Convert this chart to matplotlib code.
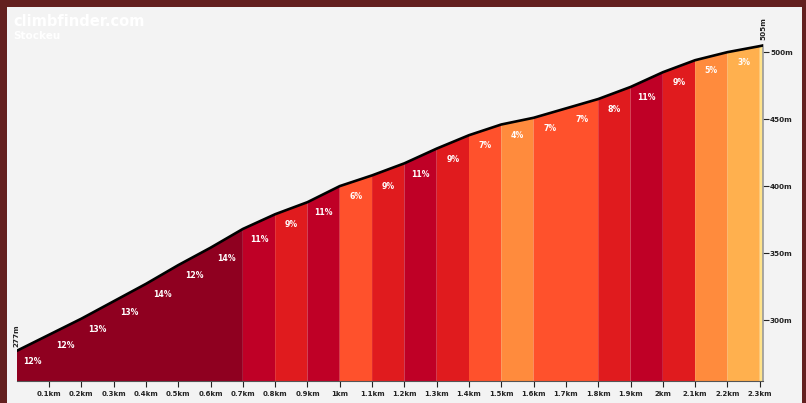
import numpy as np
import matplotlib
matplotlib.use("Agg")
from matplotlib import pyplot as plt
from matplotlib.patches import Rectangle

# profile
dist_km = [0.0, 0.1, 0.2, 0.3, 0.4, 0.5, 0.6, 0.7, 0.8, 0.9, 1.0, 1.1,
           1.2, 1.3, 1.4, 1.5, 1.6, 1.7, 1.8, 1.9, 2.0, 2.1, 2.2, 2.3, 2.31]
elev_m = [277, 289, 301, 314, 327, 341, 354, 368, 379, 388, 400, 408,
          417, 428, 438, 446, 451, 458, 465, 474, 485, 494, 500, 504.5, 505]
grades = [12, 12, 13, 13, 14, 12, 14, 11, 9, 11, 6, 9, 11, 9, 7, 4, 7, 7,
          8, 11, 9, 5, 3, 1]
ytick_vals = [300, 350, 400, 450, 500]
xtick_vals = [round(0.1 * i, 1) for i in range(1, 24)]


def grade_color(g):
    if g >= 12:
        return "#8f0020"
    if g >= 10:
        return "#bf0026"
    if g >= 8:
        return "#e01b1e"
    if g >= 6:
        return "#ff512c"
    if g >= 4:
        return "#ff8b3d"
    if g >= 2:
        return "#ffb04e"
    return "#ffe38a"


fig = plt.figure(figsize=(8.06, 4.03), dpi=100)
fig.patch.set_facecolor("#63201f")
fig.patches.append(Rectangle((7 / 806, 0), 795 / 806, 396 / 403,
                             transform=fig.transFigure, facecolor="#f3f3f3",
                             edgecolor="none", zorder=-10))

ax = fig.add_axes([16.7 / 806, 1 - 381 / 403, (763 - 16.7) / 806, 361 / 403])
ax.set_facecolor("none")
ax.set_xlim(0, 2.31)
ax.set_ylim(254.5, 524)

# merge neighbouring segments of the same colour so no seams show
cols = [grade_color(g) for g in grades]
start = 0
for i in range(1, len(cols) + 1):
    if i == len(cols) or cols[i] != cols[start]:
        xs = dist_km[start:i + 1]
        ys = elev_m[start:i + 1]
        ax.fill_between(xs, 0, ys, color=cols[start], lw=0, zorder=1)
        start = i

for i in range(len(grades)):
    x0, x1 = dist_km[i], dist_km[i + 1]
    if x1 - x0 > 0.05:
        ax.text((x0 + x1) / 2, elev_m[i] - 8, f"{grades[i]}%",
                color="white", fontsize=5.6, fontweight="bold",
                ha="center", va="center", zorder=3)

ax.plot(dist_km, elev_m, color="black", lw=1.9, solid_capstyle="round",
        zorder=4)

# right elevation axis
ax.yaxis.tick_right()
ax.set_yticks(ytick_vals)
ax.set_yticklabels([f"{v}m" for v in ytick_vals])
ax.tick_params(axis="y", length=4, width=0.8, pad=1, colors="#222222",
               labelsize=5.2)
for lab in ax.get_yticklabels():
    lab.set_fontweight("bold")
ax.plot([2.31, 2.31], [254.5, 505], color="#999999", lw=1.2, zorder=2,
        clip_on=False)

ax.set_xticks(xtick_vals)
ax.set_xticklabels([f"{v:g}km" for v in xtick_vals])
ax.tick_params(axis="x", length=4, width=0.8, pad=3, colors="#222222",
               labelsize=5)
for lab in ax.get_xticklabels():
    lab.set_fontweight("bold")

for s in ["top", "left", "right"]:
    ax.spines[s].set_visible(False)
ax.spines["bottom"].set_color("#555555")
ax.spines["bottom"].set_linewidth(0.8)

ax.text(0, elev_m[0] + 3, f"{elev_m[0]}m", rotation=90, fontsize=5.2,
        fontweight="bold", ha="center", va="bottom", color="#222222")
ax.text(2.31, elev_m[-1] + 4, f"{elev_m[-1]}m", rotation=90, fontsize=5.2,
        fontweight="bold", ha="center", va="bottom", color="#222222",
        clip_on=False)

fig.text(13 / 806, 1 - 22 / 403, "climbfinder.com", color="white",
         fontsize=10.5, fontweight="bold", va="center")
fig.text(13 / 806, 1 - 36 / 403, "Stockeu", color="white",
         fontsize=7.5, fontweight="bold", va="center")

plt.savefig("out.png", dpi=100, facecolor=fig.get_facecolor())
